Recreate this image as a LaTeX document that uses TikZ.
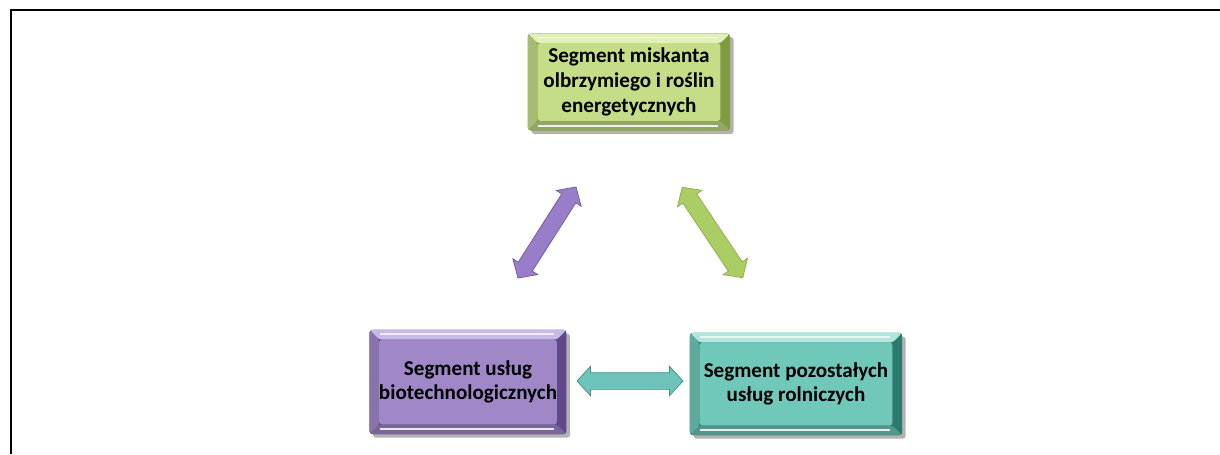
\documentclass[tikz,border=0pt]{standalone}
\usepackage{fontspec}
\setmainfont{Carlito}
\usetikzlibrary{shapes.arrows,shadows,calc}
\definecolor{gface}{RGB}{196,221,134}
\definecolor{glight}{RGB}{226,240,186}
\definecolor{gdark}{RGB}{128,156,66}
\definecolor{pface}{RGB}{160,136,200}
\definecolor{plight}{RGB}{200,186,230}
\definecolor{pdark}{RGB}{96,72,140}
\definecolor{tface}{RGB}{112,200,186}
\definecolor{tlight}{RGB}{176,230,220}
\definecolor{tdark}{RGB}{44,122,110}
\definecolor{parrow}{RGB}{152,126,200}
\definecolor{garrow}{RGB}{170,205,100}
\definecolor{tarrow}{RGB}{110,196,186}
\tikzset{
  seg/.style n args={3}{
    rounded corners=2pt, fill=#3,
    inner sep=0pt, align=center,
    font=\bfseries\fontsize{15}{17.6}\selectfont,
    drop shadow={shadow xshift=0.09cm, shadow yshift=-0.09cm, opacity=0.3, fill=black},
    path picture={
      \path (path picture bounding box.south west) coordinate (bl)
            (path picture bounding box.north east) coordinate (tr);
      \fill[#3] (bl) rectangle (tr);
      \fill[#2] (bl|-tr) -- (tr) -- ($(tr)+(-0.24cm,-0.24cm)$) -- ($(bl|-tr)+(0.24cm,-0.24cm)$) -- cycle;
      \fill[#1!85!black] (bl) -- (bl|-tr) -- ($(bl|-tr)+(0.24cm,-0.24cm)$) -- ($(bl)+(0.24cm,0.24cm)$) -- cycle;
      \fill[#1!75!black] (bl) -- (tr|-bl) -- ($(tr|-bl)+(-0.24cm,0.24cm)$) -- ($(bl)+(0.24cm,0.24cm)$) -- cycle;
      \fill[#1] ($(bl)+(0.24cm,0.24cm)$) rectangle ($(tr)+(-0.24cm,-0.24cm)$);
      \draw[white, opacity=0.85, line width=1.3pt] ($(bl)+(0.25cm,0.12cm)$) -- ($(tr|-bl)+(-0.3cm,0.12cm)$);
      \draw[white, opacity=0.7, line width=1pt] ($(bl|-tr)+(0.25cm,-0.1cm)$) -- ($(tr)+(-0.3cm,-0.1cm)$);
    }
  },
  darr/.style n args={2}{
    double arrow, inner xsep=0pt, inner ysep=0.2cm, minimum width=0.72cm,
    double arrow head extend=0.16cm, double arrow tip angle=95,
    draw=#2!70!#1, line width=0.5pt, fill=#1,
    sloped, pos=0.5
  },
  frame/.style={line width=1.4pt, black}
}
\begin{document}
\begin{tikzpicture}[x=0.025cm, y=-0.025cm]
\useasboundingbox (0,0) rectangle (1220,454);
\draw[frame] (11,454) -- (11,10) -- (1220,10);

\node[seg={gface}{glight}{gdark}, minimum width=5.05cm, minimum height=2.42cm] (G) at (629,82)
  {Segment miskanta\\olbrzymiego i roślin\\energetycznych};
\node[seg={pface}{plight}{pdark}, minimum width=4.92cm, minimum height=2.6cm] (P) at (468,382)
  {Segment usług\\biotechnologicznych};
\node[seg={tface}{tlight}{tdark}, minimum width=5.3cm, minimum height=2.55cm] (T) at (796,384)
  {Segment pozostałych\\usług rolniczych};

\coordinate (pa) at (518,278);
\coordinate (pb) at (576,187);
\coordinate (ga) at (682,187);
\coordinate (gb) at (743,278);
\coordinate (ta) at (577,381);
\coordinate (tb) at (683,381);

\path (pa) -- (pb) node[darr={parrow}{pdark}, minimum height=2.7cm] (AP) {};
\path (ga) -- (gb) node[darr={garrow}{gdark}, minimum height=2.72cm] (AG) {};
\path (ta) -- (tb) node[darr={tarrow}{tdark}, minimum height=2.65cm] (AT) {};
\end{tikzpicture}
\end{document}
